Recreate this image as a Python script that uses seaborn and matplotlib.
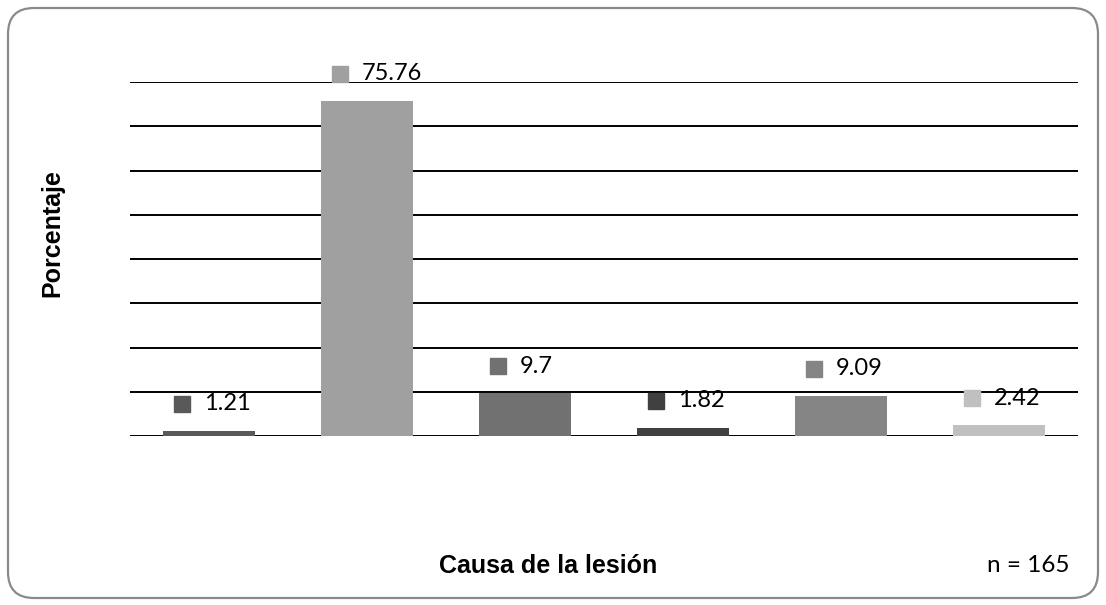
import matplotlib
matplotlib.use("Agg")
import matplotlib.pyplot as plt
from matplotlib.patches import FancyBboxPatch
from matplotlib.transforms import offset_copy, IdentityTransform
import seaborn as sns
import pandas as pd

# Datos: porcentaje de casos por causa de la lesión (n = 165)
categorias = ["A", "B", "C", "D", "E", "F"]
porcentajes = [1.21, 75.76, 9.7, 1.82, 9.09, 2.42]
colores = ["#595959", "#A0A0A0", "#717171", "#404040", "#858585", "#C0C0C0"]
etiquetas = ["1.21", "75.76", "9.7", "1.82", "9.09", "2.42"]

sns.set_theme(style="white")
plt.rcParams["font.family"] = ["Lato", "DejaVu Sans"]
plt.rcParams["text.color"] = "black"

df = pd.DataFrame({"causa": categorias, "porcentaje": porcentajes})

W, H = 1106, 605
fig = plt.figure(figsize=(W / 100, H / 100), dpi=100)
ax = fig.add_axes([130 / W, 1 - 436 / H, 948 / W, 354 / H])

sns.barplot(data=df, x="causa", y="porcentaje", hue="causa",
            palette=colores, width=0.576, saturation=1, legend=False,
            linewidth=0, ax=ax, zorder=3)

ax.set_xlim(-0.5, len(categorias) - 0.5)
ax.set_ylim(0, 80)
ax.set_yticks(range(0, 81, 10))
ax.yaxis.grid(True, color="black", linewidth=1.4, zorder=0)
ax.set_axisbelow(True)
ax.tick_params(left=False, bottom=False, labelleft=False, labelbottom=False)
ax.set_xlabel("")
ax.set_ylabel("")
for s in ax.spines.values():
    s.set_visible(False)

# Etiquetas de valor con su marcador cuadrado
for i, (v, txt, c) in enumerate(zip(porcentajes, etiquetas, colores)):
    tr_m = offset_copy(ax.transData, fig=fig, x=-27, y=27, units="dots")
    ax.plot([i], [v], marker="s", markersize=11, color=c, transform=tr_m,
            clip_on=False, zorder=4)
    tr_t = offset_copy(ax.transData, fig=fig, x=-5, y=27, units="dots")
    ax.text(i, v, txt, transform=tr_t, ha="left", va="center",
            fontsize=17, color="black", zorder=4)

fig.text(52 / W, 1 - 233 / H, "Porcentaje", rotation=90, ha="center",
         va="center", fontsize=18, fontweight="bold", color="black",
         family=["Liberation Sans", "DejaVu Sans"])
fig.text(548 / W, 1 - 566 / H, "Causa de la lesión", ha="center",
         va="center", fontsize=18, fontweight="bold", color="black",
         family=["Liberation Sans", "DejaVu Sans"])
fig.text(1028 / W, 1 - 565 / H, "n = 165", ha="center", va="center",
         fontsize=17.5, color="black")

# Marco redondeado del gráfico
marco = FancyBboxPatch((8, 7), W - 16, H - 15,
                       boxstyle="round,pad=0,rounding_size=26",
                       transform=IdentityTransform(), facecolor="none",
                       edgecolor="#8a8a8a", linewidth=1.6)
fig.patches.append(marco)

fig.savefig("out.png", dpi=100)
